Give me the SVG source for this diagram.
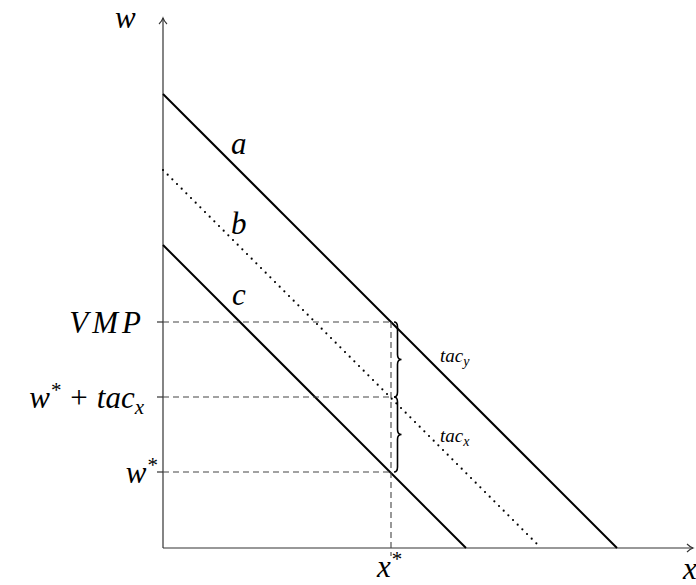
<svg xmlns="http://www.w3.org/2000/svg" width="696" height="585" viewBox="0 0 696 585">
<defs>
<style>
.axis{stroke:#333;stroke-width:1.2;fill:none}
.solid{stroke:#000;stroke-width:2;fill:none}
.dot{stroke:#000;stroke-width:2.2;stroke-linecap:round;stroke-dasharray:0 6.6;fill:none}
.dash{stroke:#444;stroke-width:1.1;stroke-dasharray:6 4;fill:none}
.brace{stroke:#000;stroke-width:1.6;fill:none}
.t{font-family:"Liberation Serif",serif;font-style:italic;font-size:31px;fill:#000}
.s{font-family:"Liberation Serif",serif;font-style:italic;font-size:19px;fill:#000}
</style>
<marker id="arr" markerWidth="10" markerHeight="10" refX="8" refY="5" orient="auto" markerUnits="userSpaceOnUse">
<path d="M2,1 Q5,4 8,5 Q5,6 2,9" fill="none" stroke="#333" stroke-width="1.1"/>
</marker>
</defs>
<g id="axes">
<line class="axis" x1="163" y1="548" x2="163" y2="18" marker-end="url(#arr)"/>
<line class="axis" x1="163" y1="548" x2="693" y2="548" marker-end="url(#arr)"/>
<line class="axis" x1="157" y1="322" x2="163" y2="322"/>
<line class="axis" x1="157" y1="397" x2="163" y2="397"/>
<line class="axis" x1="157" y1="472" x2="163" y2="472"/>
</g>
<g id="connectors">
<line class="solid" x1="163" y1="94" x2="617" y2="548"/>
<line class="dot" x1="163" y1="170" x2="541" y2="548"/>
<line class="solid" x1="163" y1="245" x2="466" y2="548"/>
<line class="dash" x1="163" y1="322" x2="391" y2="322"/>
<line class="dash" x1="163" y1="397" x2="391" y2="397"/>
<line class="dash" x1="163" y1="472" x2="391" y2="472"/>
<line class="dash" x1="391" y1="322" x2="391" y2="556"/>
<path class="brace" d="M394,322 Q397.5,322 397.5,327 L397.5,354.5 Q397.5,359.5 401.5,359.5 Q397.5,359.5 397.5,364.5 L397.5,392 Q397.5,397 394,397"/>
<path class="brace" d="M394,397 Q397.5,397 397.5,402 L397.5,429.5 Q397.5,434.5 401.5,434.5 Q397.5,434.5 397.5,439.5 L397.5,467 Q397.5,472 394,472"/>
</g>
<g id="labels">
<text class="t" x="115" y="28">w</text>
<text class="t" x="231" y="154">a</text>
<text class="t" x="231" y="234">b</text>
<text class="t" x="232" y="305">c</text>
<text class="t" x="145" y="333" text-anchor="end" letter-spacing="4">VMP</text>
<text class="t" x="144" y="408" text-anchor="end">w<tspan font-size="21" dy="-11">*</tspan><tspan dy="11"> + tac</tspan><tspan font-size="21" dy="6">x</tspan></text>
<text class="t" x="157" y="483" text-anchor="end">w<tspan font-size="21" dy="-11">*</tspan></text>
<text class="t" x="377" y="577">x<tspan font-size="21" dy="-11">*</tspan></text>
<text class="t" x="683" y="579">x</text>
<text class="s" x="440" y="362">tac<tspan font-size="14" dy="4">y</tspan></text>
<text class="s" x="440" y="442">tac<tspan font-size="14" dy="4">x</tspan></text>
</g>
</svg>
